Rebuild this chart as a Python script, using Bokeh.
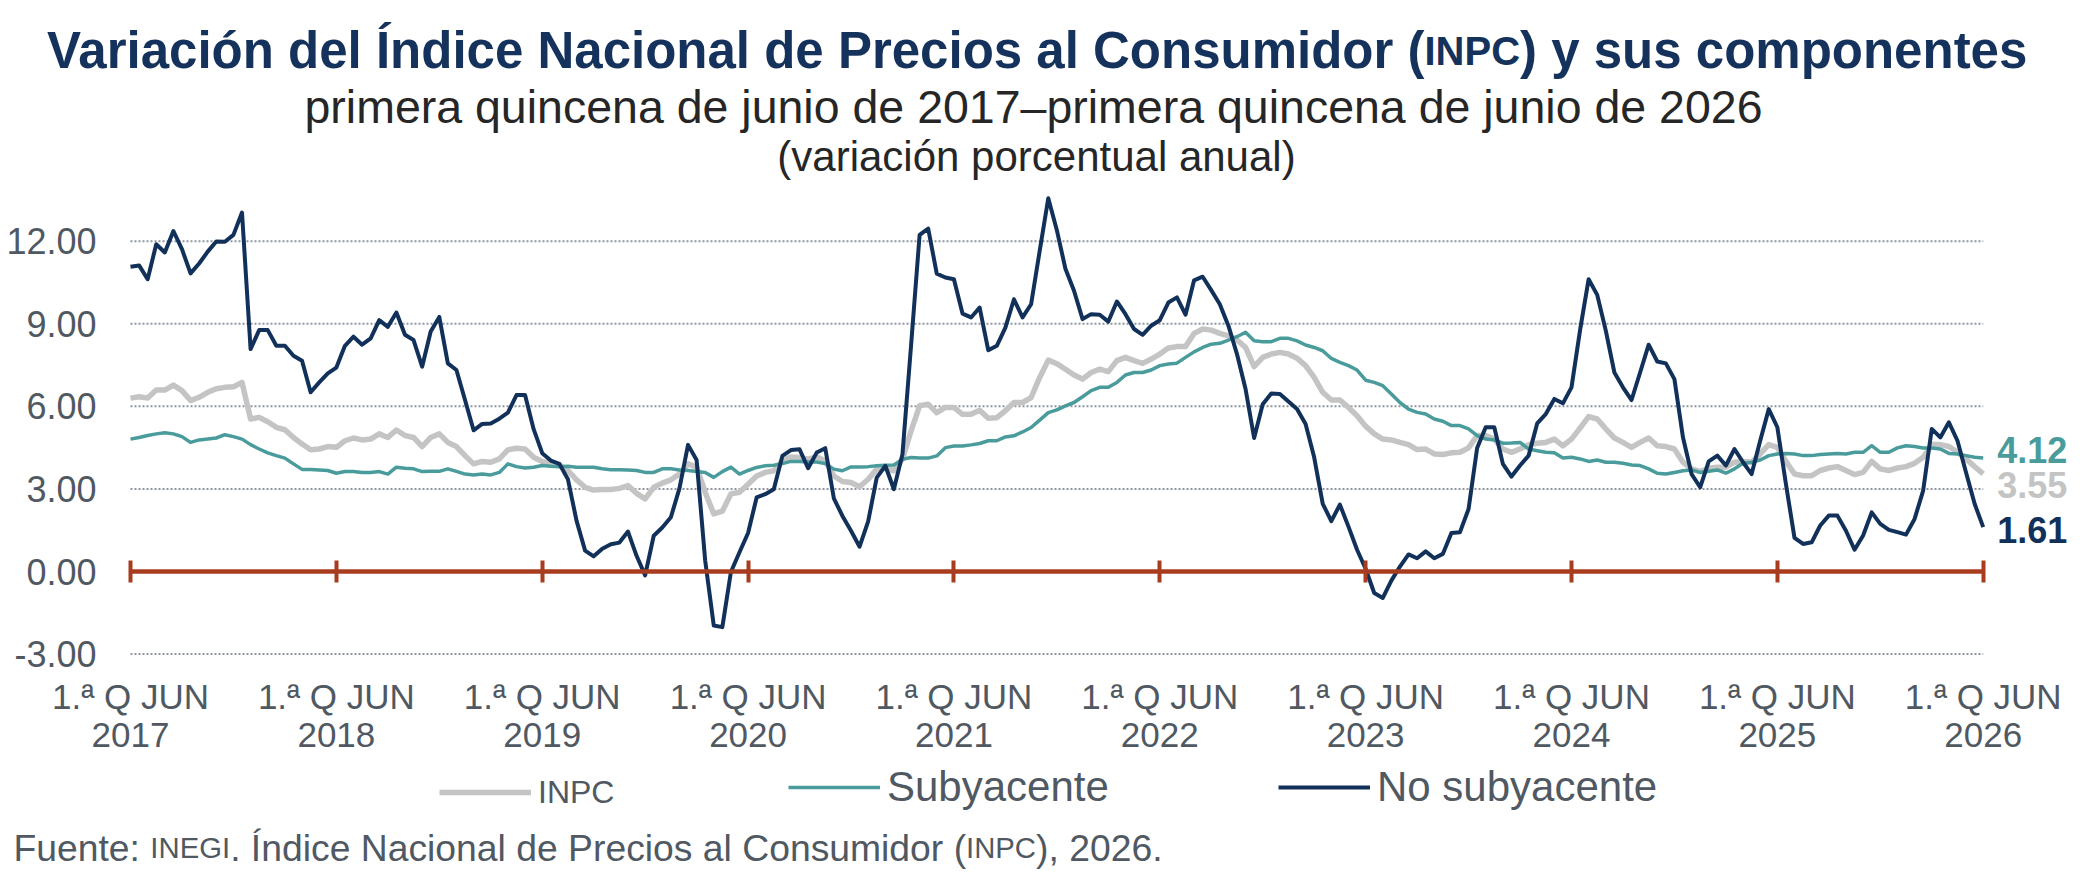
from bokeh.plotting import figure
from bokeh.models import (Range1d, FixedTicker, PrintfTickFormatter, Label, LinearAxis,
                          Legend, LegendItem)
from bokeh.embed import file_html
from bokeh.resources import INLINE

# ---------------- data (annual % change, biweekly, 1Q Jun 2017 .. 1Q Jun 2026) -------------
years = [2017, 2018, 2019, 2020, 2021, 2022, 2023, 2024, 2025, 2026]
tick_labels = ["1.ª Q JUN\n%d" % y for y in years]

inpc = [6.30, 6.35, 6.30, 6.59, 6.59, 6.77, 6.57, 6.21, 6.33, 6.51, 6.64, 6.69, 6.71, 6.87,
        5.54, 5.60, 5.44, 5.24, 5.15, 4.87, 4.63, 4.42, 4.45, 4.54, 4.51, 4.75, 4.85, 4.78,
        4.81, 5.00, 4.87, 5.14, 4.94, 4.87, 4.54, 4.87, 5.00, 4.69, 4.54, 4.21, 3.91, 4.00,
        3.97, 4.09, 4.42, 4.48, 4.45, 4.15, 4.00, 3.93, 3.88, 3.67, 3.33, 3.06, 2.96, 2.98,
        2.98, 3.02, 3.12, 2.84, 2.64, 3.06, 3.21, 3.33, 3.54, 3.91, 3.79, 2.88, 2.09, 2.19,
        2.82, 2.88, 3.17, 3.47, 3.60, 3.66, 4.02, 4.16, 4.14, 4.08, 4.16, 4.02, 3.47, 3.27,
        3.23, 3.08, 3.35, 3.72, 3.75, 3.66, 4.08, 5.11, 6.02, 6.08, 5.77, 5.96, 5.96, 5.71,
        5.71, 5.86, 5.57, 5.59, 5.84, 6.14, 6.14, 6.32, 7.05, 7.68, 7.55, 7.35, 7.14, 6.99,
        7.23, 7.35, 7.26, 7.66, 7.78, 7.66, 7.56, 7.72, 7.90, 8.12, 8.17, 8.17, 8.65, 8.81,
        8.77, 8.65, 8.56, 8.41, 8.14, 7.44, 7.78, 7.90, 7.96, 7.90, 7.75, 7.48, 7.05, 6.51,
        6.23, 6.23, 5.96, 5.66, 5.28, 5.00, 4.81, 4.78, 4.69, 4.61, 4.43, 4.45, 4.27, 4.25,
        4.31, 4.33, 4.49, 4.94, 4.94, 4.81, 4.45, 4.33, 4.45, 4.61, 4.66, 4.69, 4.81, 4.57,
        4.81, 5.21, 5.63, 5.54, 5.18, 4.85, 4.69, 4.51, 4.69, 4.85, 4.57, 4.54, 4.45, 3.97,
        3.73, 3.63, 3.75, 3.79, 3.79, 3.97, 4.00, 3.97, 4.27, 4.61, 4.51, 4.00, 3.54, 3.48,
        3.48, 3.67, 3.76, 3.81, 3.67, 3.52, 3.60, 4.00, 3.73, 3.67, 3.76, 3.81, 3.93, 4.15,
        4.61, 4.61, 4.54, 4.33, 4.09, 3.81, 3.55]

subyacente = [4.81, 4.87, 4.94, 5.00, 5.04, 5.00, 4.90, 4.69, 4.78, 4.81, 4.85, 4.97, 4.90,
              4.81, 4.61, 4.45, 4.31, 4.21, 4.12, 3.91, 3.71, 3.71, 3.69, 3.67, 3.57, 3.63,
              3.63, 3.60, 3.60, 3.63, 3.54, 3.79, 3.75, 3.73, 3.63, 3.64, 3.64, 3.73, 3.64,
              3.54, 3.51, 3.54, 3.51, 3.60, 3.91, 3.81, 3.76, 3.79, 3.85, 3.82, 3.81, 3.82,
              3.79, 3.79, 3.79, 3.73, 3.70, 3.70, 3.69, 3.67, 3.60, 3.60, 3.73, 3.73, 3.69,
              3.67, 3.63, 3.60, 3.42, 3.63, 3.79, 3.54, 3.67, 3.78, 3.84, 3.86, 3.92, 4.00,
              4.00, 3.98, 3.98, 3.92, 3.72, 3.66, 3.80, 3.80, 3.81, 3.84, 3.86, 3.87, 4.08,
              4.14, 4.12, 4.12, 4.20, 4.50, 4.56, 4.56, 4.60, 4.65, 4.75, 4.75, 4.89, 4.93,
              5.07, 5.23, 5.50, 5.77, 5.87, 6.02, 6.14, 6.35, 6.57, 6.69, 6.69, 6.87, 7.14,
              7.23, 7.23, 7.32, 7.48, 7.54, 7.57, 7.78, 7.98, 8.14, 8.26, 8.29, 8.41, 8.53,
              8.69, 8.38, 8.35, 8.35, 8.47, 8.47, 8.38, 8.23, 8.14, 8.02, 7.74, 7.60, 7.48,
              7.32, 6.95, 6.87, 6.75, 6.45, 6.14, 5.90, 5.78, 5.72, 5.54, 5.46, 5.30, 5.30,
              5.18, 4.94, 4.81, 4.78, 4.66, 4.67, 4.69, 4.45, 4.39, 4.33, 4.31, 4.12, 4.15,
              4.09, 4.00, 4.05, 3.97, 3.97, 3.93, 3.87, 3.85, 3.73, 3.57, 3.54, 3.60, 3.66,
              3.69, 3.60, 3.64, 3.69, 3.57, 3.73, 3.93, 3.97, 4.05, 4.21, 4.27, 4.29, 4.27,
              4.21, 4.21, 4.25, 4.27, 4.29, 4.27, 4.33, 4.33, 4.57, 4.33, 4.33, 4.49, 4.57,
              4.54, 4.49, 4.49, 4.45, 4.29, 4.27, 4.21, 4.15, 4.12]

no_subyacente = [11.07, 11.12, 10.62, 11.89, 11.59, 12.37, 11.71, 10.83, 11.19, 11.62, 11.99,
                 11.98, 12.23, 13.04, 8.08, 8.77, 8.77, 8.20, 8.20, 7.84, 7.66, 6.51, 6.87,
                 7.20, 7.41, 8.20, 8.53, 8.24, 8.47, 9.13, 8.89, 9.41, 8.60, 8.41, 7.44, 8.72,
                 9.25, 7.56, 7.32, 6.23, 5.13, 5.36, 5.38, 5.55, 5.77, 6.41, 6.41, 5.17, 4.30,
                 4.03, 3.91, 3.35, 1.85, 0.76, 0.55, 0.83, 0.99, 1.05, 1.45, 0.57, -0.14, 1.30,
                 1.60, 1.97, 3.02, 4.60, 4.05, 0.40, -1.96, -2.02, -0.02, 0.70, 1.40, 2.69,
                 2.81, 2.99, 4.20, 4.41, 4.44, 3.75, 4.32, 4.48, 2.66, 2.02, 1.48, 0.90, 1.82,
                 3.41, 3.84, 2.99, 4.26, 8.20, 12.23, 12.46, 10.82, 10.68, 10.62, 9.37, 9.23,
                 9.59, 8.04, 8.20, 8.86, 9.89, 9.23, 9.71, 11.65, 13.56, 12.40, 11.00, 10.20,
                 9.17, 9.35, 9.33, 9.08, 9.81, 9.35, 8.81, 8.60, 8.93, 9.13, 9.77, 9.96, 9.33,
                 10.58, 10.71, 10.22, 9.71, 8.93, 7.90, 6.63, 4.85, 6.08, 6.47, 6.45, 6.18,
                 5.90, 5.36, 4.15, 2.46, 1.83, 2.43, 1.63, 0.79, 0.10, -0.78, -0.96, -0.33,
                 0.18, 0.62, 0.48, 0.73, 0.48, 0.64, 1.40, 1.43, 2.27, 4.49, 5.24, 5.24, 3.91,
                 3.45, 3.85, 4.21, 5.38, 5.72, 6.27, 6.11, 6.69, 8.77, 10.62, 10.05, 8.75,
                 7.23, 6.69, 6.23, 7.23, 8.24, 7.63, 7.56, 6.99, 4.87, 3.54, 3.06, 4.00, 4.21,
                 3.85, 4.45, 3.97, 3.54, 4.75, 5.90, 5.24, 3.18, 1.22, 1.00, 1.06, 1.67, 2.03,
                 2.03, 1.48, 0.79, 1.31, 2.15, 1.73, 1.51, 1.43, 1.34, 1.91, 2.94, 5.18, 4.87,
                 5.42, 4.75, 3.60, 2.46, 1.61]

y_ticks = [-3, 0, 3, 6, 9, 12]

# ---------------- styling ----------------
NAVY = "#12315a"
TEAL = "#4a9b9b"
GREY = "#c4c4c4"
RED = "#a83c1e"
TXT = "#505862"
TITLE = "#15325c"
FONT = "Liberation Sans"

n = len(inpc)
idx = list(range(n))
year_idx = [i * 24 for i in range(len(years))]

W, H = 2080, 872            # figure sits at the page's top-left corner
PX0, PX1 = 130, 1982.7      # page x of first / last period
PY0, PY12 = 571, 240.7      # page y of 0 and 12
KX = (PX1 - PX0) / (n - 1)
KY = (PY0 - PY12) / 12.0

def dx(sx):
    return (sx - PX0) / KX
def dy(sy):
    return (PY0 - sy) / KY

p = figure(width=W, height=H, output_backend="svg", toolbar_location=None,
           x_range=Range1d(dx(0), dx(W)), y_range=Range1d(dy(H), dy(0)),
           x_axis_location=None, y_axis_location=None,
           min_border=0, min_border_left=0, min_border_right=0,
           min_border_top=0, min_border_bottom=0)
p.title.visible = False
p.outline_line_color = None
p.background_fill_color = "white"
p.border_fill_color = "white"
p.grid.visible = False

# dotted horizontal gridlines over the data span
gy = [t for t in y_ticks if t != 0]
p.segment(x0=[idx[0]] * len(gy), x1=[idx[-1]] * len(gy), y0=gy, y1=gy,
          line_color="#8e959e", line_width=2, line_dash="2 2")

# y axis (labels only)
ya = LinearAxis(fixed_location=idx[0], ticker=FixedTicker(ticks=y_ticks),
                formatter=PrintfTickFormatter(format="%.2f"))
ya.axis_line_color = None
ya.major_tick_line_color = None
ya.minor_tick_line_color = None
ya.major_tick_out = 0
ya.major_tick_in = 0
ya.major_label_standoff = 34
ya.major_label_text_font = FONT
ya.major_label_text_font_size = "36px"
ya.major_label_text_color = TXT
p.add_layout(ya, "left")

# x axis (labels only), just under the -3 band
xa = LinearAxis(fixed_location=dy(665), ticker=FixedTicker(ticks=year_idx),
                major_label_overrides={i: t for i, t in zip(year_idx, tick_labels)})
xa.axis_line_color = None
xa.major_tick_line_color = None
xa.minor_tick_line_color = None
xa.major_tick_out = 0
xa.major_tick_in = 0
xa.major_label_standoff = 11
xa.major_label_text_font = FONT
xa.major_label_text_font_size = "35px"
xa.major_label_text_color = TXT
xa.major_label_text_line_height = 0.98
p.add_layout(xa, "below")

# zero axis: red line with year ticks
za = LinearAxis(fixed_location=0, ticker=FixedTicker(ticks=year_idx),
                bounds=(idx[0], idx[-1]))
za.axis_line_color = RED
za.axis_line_width = 4.5
za.major_tick_line_color = RED
za.major_tick_line_width = 4
za.major_tick_in = 11
za.major_tick_out = 11
za.minor_tick_line_color = None
za.major_label_overrides = {i: " " for i in year_idx}
za.major_label_text_font_size = "1px"
za.major_label_text_alpha = 0
p.add_layout(za, "below")

# series
r_inpc = p.line(idx, inpc, line_color=GREY, line_width=5.5, line_join="round")
r_sub = p.line(idx, subyacente, line_color=TEAL, line_width=3.5, line_join="round")
r_nos = p.line(idx, no_subyacente, line_color=NAVY, line_width=4, line_join="round")

# end labels (nudged vertically so they do not collide)
for val, col, shift in [(subyacente[-1], TEAL, 0.31), (inpc[-1], GREY, -0.39),
                        (no_subyacente[-1], NAVY, -0.11)]:
    p.add_layout(Label(x=idx[-1], y=val + shift, x_offset=14, text="%.2f" % val,
                       text_font=FONT, text_font_size="36px", text_font_style="bold",
                       text_color=col, text_align="left", text_baseline="middle"))

# legends (three separate ones so that INPC can be smaller)
def make_legend(label, rend, size, sx, ycenter, gh, lh):
    top = ycenter - gh / 2.0
    bottom = top + max(gh, lh)
    lg = Legend(items=[LegendItem(label=label, renderers=[rend])],
                location=(sx, H - bottom), orientation="horizontal",
                glyph_width=92, glyph_height=gh, label_height=lh, label_standoff=7,
                padding=0, margin=0, border_line_color=None, background_fill_alpha=0,
                label_text_font=FONT, label_text_font_size=size, label_text_color=TXT)
    p.add_layout(lg)

make_legend("INPC", r_inpc, "32px", 439, 787, 46, 56)
make_legend("Subyacente", r_sub, "42px", 788, 787, 48, 48)
make_legend("No subyacente", r_nos, "42px", 1278, 787, 48, 48)

# titles
def txt(s, sx, sy, size, color, align="center", bold=False):
    p.add_layout(Label(x=dx(sx), y=dy(sy), text=s, text_font=FONT,
                       text_font_size="%spx" % size,
                       text_font_style="bold" if bold else "normal", text_color=color,
                       text_align=align, text_baseline="alphabetic"))

TS, TSS = 51, 40
xa_ = 1424
txt("Variación del Índice Nacional de Precios al Consumidor (", xa_, 50, TS, TITLE, "right", True)
txt("INPC", xa_, 50, TSS, TITLE, "left", True)
txt(") y sus componentes", xa_ + 2.389 * TSS, 50, TS, TITLE, "left", True)
txt("primera quincena de junio de 2017–primera quincena de junio de 2026", 1033, 106, 46.5,
    "#262626")
txt("(variación porcentual anual)", 1036, 156, 42, "#262626")

# source
SS, SSS = 37.3, 29.3
sx = 13
txt("Fuente: ", sx, 847, SS, TXT, "left")
sx += 3.669 * SS
txt("INEGI", sx, 847, SSS, TXT, "left")
sx += 2.723 * SSS
txt(". Índice Nacional de Precios al Consumidor (", sx, 847, SS, TXT, "left")
sx += 19.729 * SS
txt("INPC", sx, 847, SSS, TXT, "left")
sx += 2.389 * SSS
txt("), 2026.", sx, 847, SS, TXT, "left")

open("out.html", "w").write(file_html(p, INLINE))
